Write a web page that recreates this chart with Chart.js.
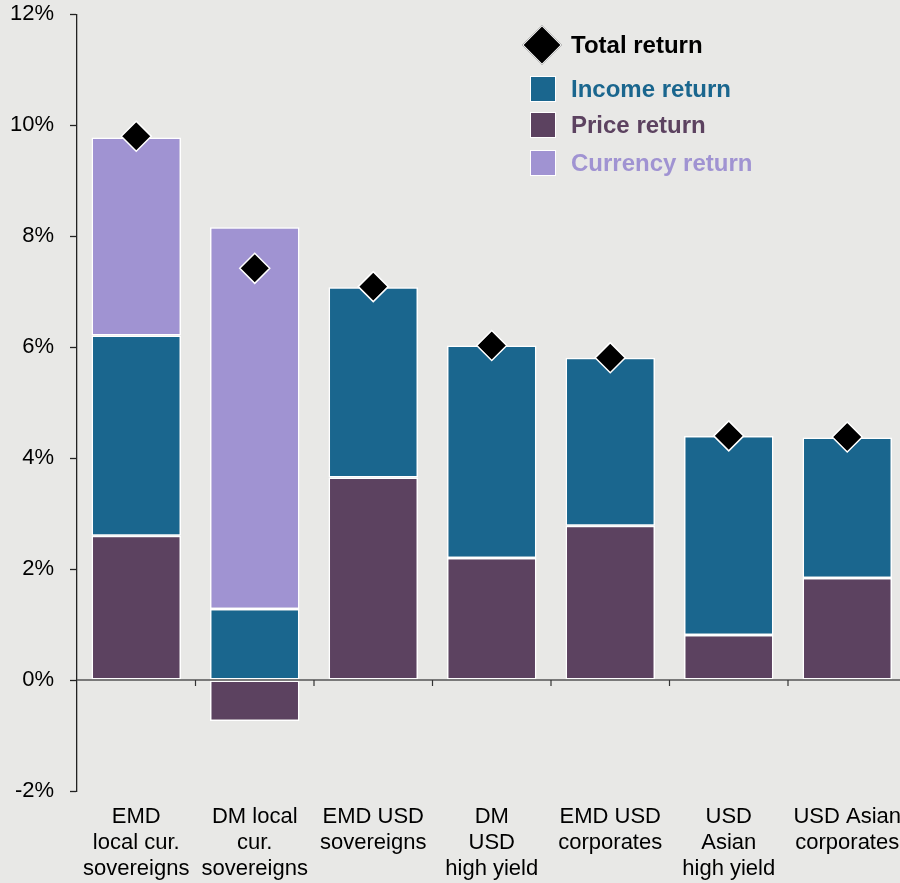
<!DOCTYPE html>
<html>
<head>
<meta charset="utf-8">
<script src="https://cdn.jsdelivr.net/npm/chart.js@4"></script>
<style>
  html, body { margin: 0; padding: 0; background: #e8e8e6; }
  #wrap { position: relative; width: 900px; height: 883px; overflow: hidden; }
  #box { position: absolute; left: 0; top: -15px; width: 923px; height: 898px; }
  .legend { position: absolute; left: 520px; top: 24px; font-family: "Liberation Sans", Arial, sans-serif; font-weight: bold; font-size: 24px; }
  .legend .row { position: absolute; left: 0; white-space: nowrap; height: 30px; line-height: 30px; }
  .legend .sw { position: absolute; left: 10px; top: 2px; width: 26px; height: 26px; box-sizing: border-box; border: 1.5px solid #fff; }
  .legend .dia { position: absolute; left: 8px; top: 1px; width: 28px; height: 28px; background: #000; border: 1.5px solid #fff; transform: rotate(45deg); box-sizing: border-box; }
  .legend .txt { position: absolute; left: 51px; top: 0; }
</style>
</head>
<body>
<div id="wrap">
  <div id="box"><canvas id="returnsChart"></canvas></div>
  <div class="legend">
    <div class="row" style="top:6px"><span class="dia"></span><span class="txt" style="color:#000">Total return</span></div>
    <div class="row" style="top:50px"><span class="sw" style="background:#1a668e"></span><span class="txt" style="color:#1a668e">Income return</span></div>
    <div class="row" style="top:86px"><span class="sw" style="background:#5c4260"></span><span class="txt" style="color:#5c4260">Price return</span></div>
    <div class="row" style="top:124px"><span class="sw" style="background:#a093d2"></span><span class="txt" style="color:#a093d2">Currency return</span></div>
  </div>
</div>
<script>
const categories = [
  ["EMD", "local cur.", "sovereigns"],
  ["DM local", "cur.", "sovereigns"],
  ["EMD USD", "sovereigns"],
  ["DM", "USD", "high yield"],
  ["EMD USD", "corporates"],
  ["USD", "Asian", "high yield"],
  ["USD Asian", "corporates"],
];
const priceReturn = [2.6, -0.74, 3.65, 2.2, 2.78, 0.81, 1.84];
const incomeReturn = [3.61, 1.28, 3.43, 3.83, 3.03, 3.59, 2.53];
const currencyReturn = [3.57, 6.88, null, null, null, null, null];
const totalReturn = [9.8, 7.42, 7.09, 6.03, 5.81, 4.4, 4.38];
const yTicks = [-2, 0, 2, 4, 6, 8, 10, 12];

const fontFamily = '"Liberation Sans", Arial, sans-serif';

// zero line + category tick marks drawn at the 0% level
const zeroAxisPlugin = {
  id: "zeroAxis",
  afterDatasetsDraw(chart) {
    const ctx = chart.ctx;
    const x = chart.scales.x;
    const y0 = chart.scales.y.getPixelForValue(0);
    const area = chart.chartArea;
    ctx.save();
    ctx.strokeStyle = "#555555";
    ctx.lineWidth = 1.5;
    ctx.beginPath();
    ctx.moveTo(area.left, y0);
    ctx.lineTo(area.right, y0);
    ctx.stroke();
    ctx.strokeStyle = "#333333";
    ctx.lineWidth = 1.2;
    for (let i = 1; i <= categories.length; i++) {
      const px = x.getPixelForValue(i - 0.5);
      ctx.beginPath();
      ctx.moveTo(px, y0);
      ctx.lineTo(px, y0 + 6);
      ctx.stroke();
    }
    ctx.restore();
  },
};

const barDefaults = {
  type: "bar",
  borderColor: "#ffffff",
  borderWidth: 1.5,
  borderSkipped: false,
  categoryPercentage: 1,
  barPercentage: 0.755,
  stack: "returns",
  order: 1,
};

new Chart(document.getElementById("returnsChart"), {
  data: {
    labels: categories,
    datasets: [
      { ...barDefaults, label: "Price return", data: priceReturn, backgroundColor: "#5c4260" },
      { ...barDefaults, label: "Income return", data: incomeReturn, backgroundColor: "#1a668e" },
      { ...barDefaults, label: "Currency return", data: currencyReturn, backgroundColor: "#a093d2" },
      {
        type: "line",
        label: "Total return",
        data: totalReturn,
        showLine: false,
        stack: "total",
        order: 0,
        pointStyle: "rectRot",
        pointRadius: 15,
        pointBackgroundColor: "#000000",
        pointBorderColor: "#ffffff",
        pointBorderWidth: 1.5,
      },
    ],
  },
  options: {
    responsive: true,
    maintainAspectRatio: false,
    animation: false,
    layout: { padding: { top: 0, right: 0, left: 0, bottom: 0 } },
    scales: {
      x: {
        stacked: true,
        grid: { display: false, drawTicks: false },
        border: { display: false },
        ticks: {
          color: "#000",
          padding: 13,
          maxRotation: 0,
          autoSkip: false,
          font: { family: fontFamily, size: 22, lineHeight: 1.18 },
        },
        afterFit(scale) {
          scale.height = 92;
        },
      },
      y: {
        stacked: true,
        min: -2,
        max: 12,
        afterBuildTicks(scale) {
          scale.ticks = yTicks.map((v) => ({ value: v }));
        },
        grid: { drawOnChartArea: false, color: "#222", tickLength: 7, tickWidth: 1.3 },
        border: { display: true, color: "#222", width: 1.3 },
        ticks: {
          color: "#000",
          padding: 16,
          font: { family: fontFamily, size: 22 },
          callback: (v) => v + "%",
        },
        afterFit(scale) {
          scale.width = 77;
        },
      },
    },
    plugins: {
      legend: { display: false },
      tooltip: { enabled: false },
    },
  },
  plugins: [zeroAxisPlugin],
});
</script>
</body>
</html>
